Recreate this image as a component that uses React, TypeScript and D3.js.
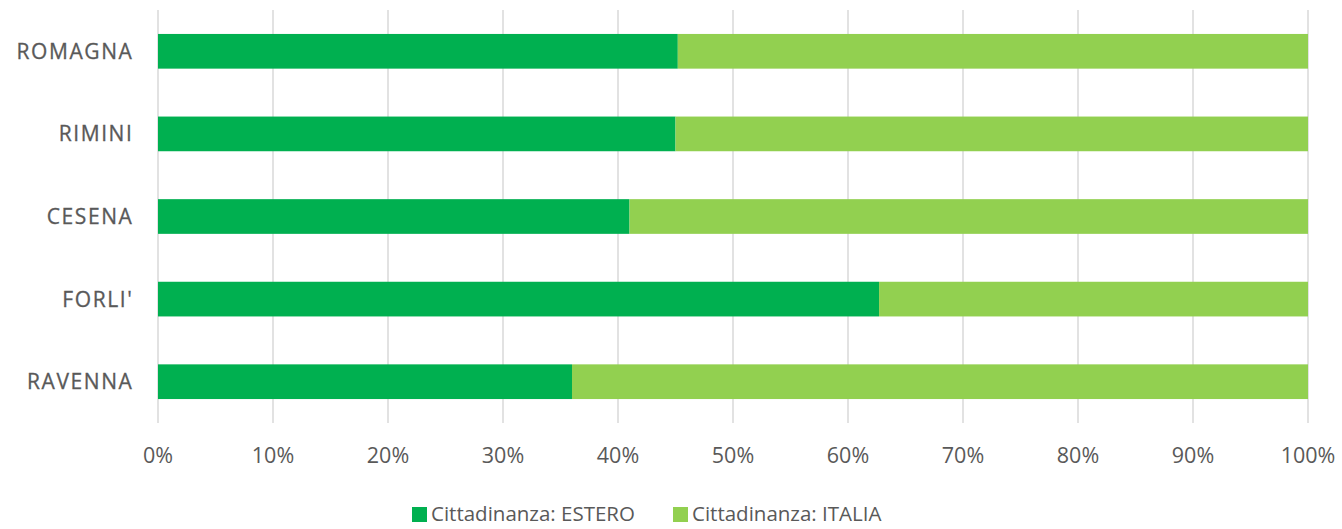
import React from "react";
import * as d3 from "d3";

const categories = ["ROMAGNA", "RIMINI", "CESENA", "FORLI'", "RAVENNA"];
const esteroValues = [45.2, 45.0, 41.0, 62.7, 36.0];
const italiaValues = [54.8, 55.0, 59.0, 37.3, 64.0];
const tickValues = [0, 10, 20, 30, 40, 50, 60, 70, 80, 90, 100];
const seriesNames = ["Cittadinanza: ESTERO", "Cittadinanza: ITALIA"];
const seriesColors = ["#00B050", "#92D050"];

const W = 1342;
const H = 529;
const left = 158;
const right = 1308;
const top = 10;
const bottom = 423;
const FONT = "'Open Sans', sans-serif";
const TEXT = "#595959";

export default function App() {
  const x = d3.scaleLinear().domain([0, 100]).range([left, right]);
  const y = d3.scaleBand<string>().domain(categories).range([top, bottom]).paddingInner(0.58).paddingOuter(0.29);
  const stack = d3.stack<any>().keys(["estero", "italia"]);
  const rows = categories.map((c, i) => {
    const tot = esteroValues[i] + italiaValues[i];
    return { cat: c, estero: (esteroValues[i] / tot) * 100, italia: (italiaValues[i] / tot) * 100 };
  });
  const series = stack(rows);
  return (
    <svg width={W} height={H} style={{ position: "absolute", left: 0, top: 0 }}>
      <rect width={W} height={H} fill="#fff" />
      {tickValues.map((t) => (
        <line key={t} x1={x(t)} x2={x(t)} y1={top} y2={bottom} stroke="#D9D9D9" strokeWidth={1.5} />
      ))}
      {series.map((s, si) =>
        s.map((d, i) => (
          <rect
            key={si + "-" + i}
            x={x(d[0])}
            y={y(rows[i].cat)}
            width={x(d[1]) - x(d[0])}
            height={y.bandwidth()}
            fill={seriesColors[si]}
          />
        ))
      )}
      {categories.map((c) => (
        <text
          key={c}
          x={133.5}
          y={(y(c) as number) + y.bandwidth() / 2}
          dy="0.36em"
          textAnchor="end"
          fontFamily={FONT}
          fontSize={21}
          letterSpacing={1.6}
          stroke={TEXT}
          strokeWidth={0.3}
          fill={TEXT}
        >
          {c}
        </text>
      ))}
      {tickValues.map((t) => (
        <text key={t} x={x(t)} y={463} textAnchor="middle" fontFamily={FONT} fontSize={21.5} fill={TEXT}>
          {t + "%"}
        </text>
      ))}
      {seriesNames.map((n, i) => {
        const lx = i === 0 ? 412 : 673;
        return (
          <g key={n}>
            <rect x={lx} y={507} width={15} height={15} fill={seriesColors[i]} />
            <text x={lx + 19} y={521} fontFamily={FONT} fontSize={20.5} fill={TEXT}>
              {n}
            </text>
          </g>
        );
      })}
    </svg>
  );
}
